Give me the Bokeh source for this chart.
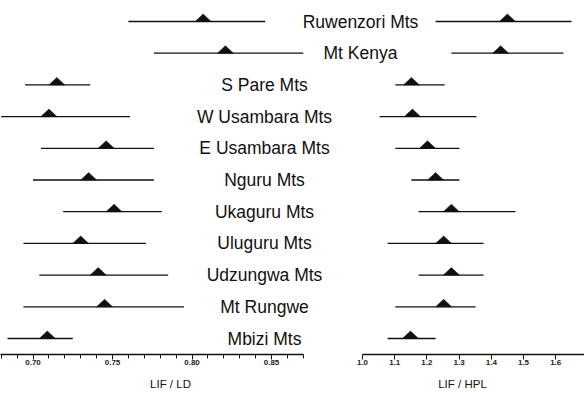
import numpy as np
from bokeh.plotting import figure
from bokeh.models import ColumnDataSource, Range1d, LinearAxis, FixedTicker, NumeralTickFormatter
from bokeh.core.properties import value
from bokeh.layouts import column, row
from bokeh.embed import file_html
from bokeh.resources import INLINE

# Mountain blocks, top to bottom
mountains = ["Ruwenzori Mts", "Mt Kenya", "S Pare Mts", "W Usambara Mts", "E Usambara Mts",
             "Nguru Mts", "Ukaguru Mts", "Uluguru Mts", "Udzungwa Mts", "Mt Rungwe", "Mbizi Mts"]

# LIF / LD : mean and range
ld_mean = [0.807, 0.821, 0.715, 0.710, 0.746, 0.735, 0.751, 0.730, 0.741, 0.745, 0.709]
ld_low = [0.760, 0.776, 0.695, 0.680, 0.705, 0.700, 0.719, 0.694, 0.704, 0.694, 0.684]
ld_high = [0.846, 0.870, 0.736, 0.761, 0.776, 0.776, 0.781, 0.771, 0.785, 0.795, 0.725]

# LIF / HPL : mean and range
hpl_mean = [1.450, 1.429, 1.152, 1.155, 1.202, 1.227, 1.276, 1.252, 1.276, 1.252, 1.149]
hpl_low = [1.227, 1.276, 1.102, 1.053, 1.102, 1.152, 1.174, 1.078, 1.174, 1.102, 1.078]
hpl_high = [1.649, 1.624, 1.255, 1.354, 1.301, 1.301, 1.475, 1.376, 1.376, 1.351, 1.227]

ld_ticks = [0.70, 0.75, 0.80, 0.85]
hpl_ticks = [1.0, 1.1, 1.2, 1.3, 1.4, 1.5, 1.6]

# ---- layout constants (pixels) ----
W = 584
MAIN_H = 353
LD_PPU = 1590.0          # pixels per LD unit
LD_ZERO_PX = 32.5        # pixel position of 0.70
HPL_PPU = 322.0          # pixels per HPL unit
HPL_ZERO_PX = 362.0      # pixel position of 1.0
ROW0_PX, ROW_STEP = 21.0, 31.7
LEFT_AX_W = 340

ld_start = 0.70 - LD_ZERO_PX / LD_PPU
ld_end = ld_start + W / LD_PPU
hpl_start = 1.0 - HPL_ZERO_PX / HPL_PPU
hpl_end = hpl_start + W / HPL_PPU

n = len(mountains)
rows = np.arange(n, dtype=float)
y_top = -ROW0_PX / ROW_STEP
y_bot = (MAIN_H - ROW0_PX) / ROW_STEP

INK = "#111111"
TRI_HALF_PX, TRI_H_PX = 8.0, 7.5

p = figure(width=W, height=MAIN_H, x_range=Range1d(ld_start, ld_end),
           y_range=Range1d(y_bot, y_top), output_backend="svg", toolbar_location=None,
           x_axis_type=None, y_axis_type=None, min_border=0, outline_line_color=None)
p.xgrid.visible = False
p.ygrid.visible = False
p.extra_x_ranges = {"hpl": Range1d(hpl_start, hpl_end)}

tri_h = TRI_H_PX / ROW_STEP

# LD panel
ld_src = ColumnDataSource(dict(y=rows, lo=ld_low, hi=ld_high))
p.segment(x0="lo", x1="hi", y0="y", y1="y", source=ld_src, line_color=INK, line_width=1.3)
hw = TRI_HALF_PX / LD_PPU
p.patches(xs=[[m - hw, m, m + hw] for m in ld_mean],
          ys=[[r, r - tri_h, r] for r in rows], fill_color=INK, line_color=INK, line_width=0.5)

# HPL panel
hpl_src = ColumnDataSource(dict(y=rows, lo=hpl_low, hi=hpl_high))
p.segment(x0="lo", x1="hi", y0="y", y1="y", source=hpl_src, line_color=INK, line_width=1.3,
          x_range_name="hpl")
hw2 = TRI_HALF_PX / HPL_PPU
p.patches(xs=[[m - hw2, m, m + hw2] for m in hpl_mean],
          ys=[[r, r - tri_h, r] for r in rows], fill_color=INK, line_color=INK, line_width=0.5,
          x_range_name="hpl")

# mountain names between the panels; shifted right where the LD range runs long
label_x = [ld_start + (360 if hi > 0.83 else 264) / LD_PPU for hi in ld_high]
p.text(x=label_x, y=rows, text=mountains, text_align="center", text_baseline="middle",
       text_font=value("Liberation Sans"), text_font_size="17.5px", text_color=INK)


def axis_fig(frame_w, x0, x1, ticks, minor, fmt, bounds, title):
    f = figure(frame_width=frame_w, frame_height=1, x_range=Range1d(x0, x1), y_range=Range1d(0, 1),
               output_backend="svg", toolbar_location=None, x_axis_type=None, y_axis_type=None,
               min_border=0, outline_line_color=None)
    f.xgrid.visible = False
    f.ygrid.visible = False
    ax = LinearAxis(ticker=FixedTicker(ticks=ticks, minor_ticks=minor),
                    formatter=NumeralTickFormatter(format=fmt), bounds=bounds)
    ax.axis_line_color = INK
    ax.axis_line_width = 1.4
    ax.major_tick_line_color = INK
    ax.minor_tick_line_color = INK
    ax.major_tick_in = 0
    ax.major_tick_out = 5
    ax.minor_tick_in = 0
    ax.minor_tick_out = 4
    ax.major_label_text_font = "Liberation Sans"
    ax.major_label_text_font_size = "8px"
    ax.major_label_text_font_style = "bold"
    ax.major_label_text_color = "#222222"
    ax.major_label_standoff = 0
    ax.axis_label = title
    ax.axis_label_text_font = "Liberation Sans"
    ax.axis_label_text_font_size = "11.5px"
    ax.axis_label_text_font_style = "normal"
    ax.axis_label_text_color = INK
    ax.axis_label_standoff = 10
    f.add_layout(ax, "below")
    return f


ld_minor = [round(v, 2) for v in np.arange(0.68, 0.8701, 0.01)]
ax_ld = axis_fig(LEFT_AX_W, ld_start, ld_start + LEFT_AX_W / LD_PPU, ld_ticks, ld_minor,
                 "0.00", (ld_start, 0.87), "LIF / LD")
r_start = 1.0 - (HPL_ZERO_PX - LEFT_AX_W) / HPL_PPU
ax_hpl = axis_fig(W - LEFT_AX_W, r_start, hpl_end, hpl_ticks, [], "0.0",
                  (1.0, hpl_end), "LIF / HPL")

layout = column(p, row(ax_ld, ax_hpl, spacing=0), spacing=0)

open("out.html", "w").write(file_html(layout, INLINE))
